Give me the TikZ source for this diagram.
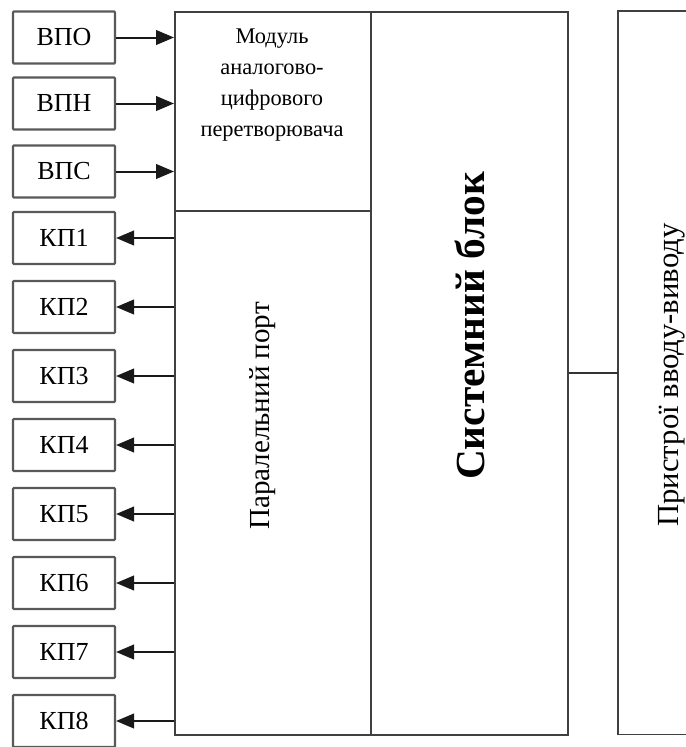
\documentclass[tikz,border=0pt]{standalone}
\usepackage{fontspec}
\setmainfont{Liberation Serif}
\usetikzlibrary{arrows.meta}
\tikzset{
  sbox/.style={draw=black!65, line width=1.6pt, rounded corners=0.6pt, minimum width=102*0.75pt, minimum height=52*0.75pt, inner sep=0pt, font=\fontsize{19.5}{21}\selectfont},
  bigbox/.style={draw=black!75, line width=1.4pt, inner sep=0pt},
  conn/.style={black!90, line width=1.5pt, -{Triangle[length=13.5pt,width=11pt]}},
  plain/.style={black!80, line width=1.5pt}
}
\begin{document}
\begin{tikzpicture}[x=0.75pt,y=-0.75pt]
\useasboundingbox (0,0) rectangle (686,747);
% big blocks
\node[bigbox, minimum width=196*0.75pt, minimum height=199*0.75pt, anchor=north west] (adc) at (174,11) {};
\node[bigbox, minimum width=196*0.75pt, minimum height=524*0.75pt, anchor=north west] (port) at (174,210) {};
\node[bigbox, minimum width=197*0.75pt, minimum height=723*0.75pt, anchor=north west] (sys) at (370,11) {};
\node[minimum width=68*0.75pt, minimum height=723*0.75pt, inner sep=0pt, anchor=north west] (dev) at (618,11) {};
\draw[bigbox] (dev.north east) -- (dev.north west) -- (dev.south west) -- (dev.south east);
\draw[plain] (sys.east) -- (sys.east -| dev.west);
% texts in blocks
\node[anchor=north, align=center, font=\fontsize{16.8}{23.2}\selectfont] (adct) at (272,24) {Модуль\\аналогово-\\цифрового\\перетворювача};
\node[rotate=90, font=\fontsize{21.8}{24}\selectfont] (portt) at (263,416) {Паралельний порт};
\node[rotate=90, font=\fontsize{31}{32}\selectfont\bfseries] (syst) at (470,326) {Системний блок};
\node[rotate=90, font=\fontsize{23}{24}\selectfont] (devt) at (672,375) {Пристрої вводу-виводу};
% input boxes
\node[sbox] (vpo) at (64,37.5) {ВПО};
\node[sbox] (vpn) at (64,103.5) {ВПН};
\node[sbox] (vps) at (64,171.5) {ВПС};
\foreach \n in {vpo,vpn,vps}
  \draw[conn] (\n.east) -- (\n.east -| adc.west);
% output boxes
\foreach \k in {1,...,8} {
  \node[sbox] (kp\k) at (64,{238+(\k-1)*69}) {КП\k};
  \draw[conn] (kp\k.east -| port.west) -- (kp\k.east);
}
\end{tikzpicture}
\end{document}
